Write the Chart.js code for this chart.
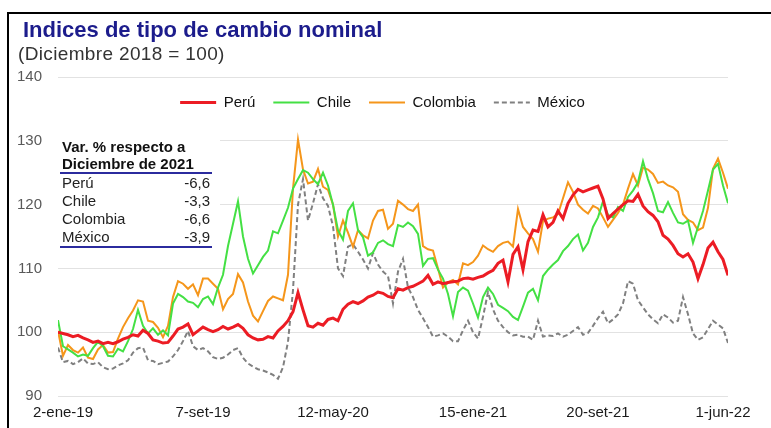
<!DOCTYPE html>
<html>
<head>
<meta charset="utf-8">
<script src="https://cdn.jsdelivr.net/npm/chart.js@4"></script>
<style>
  html, body { margin: 0; padding: 0; background: #fff; }
  #wrap { position: relative; width: 771px; height: 428px; overflow: hidden; font-family: "Liberation Sans", Arial, sans-serif; }
  #frame { position: absolute; left: 7px; top: 12px; right: -10px; bottom: -10px; border-left: 2px solid #000; border-top: 2px solid #000; }
  #title { position: absolute; left: 23px; top: 17px; font-size: 22px; line-height: 26px; font-weight: bold; color: #1c1c8c; white-space: nowrap; }
  #sub { position: absolute; left: 18px; top: 43px; font-size: 19px; line-height: 22px; letter-spacing: 0.35px; color: #333; white-space: nowrap; }
  canvas { position: absolute; left: 0; top: 0; }
  #box { position: absolute; left: 52px; top: 132px; width: 168px; height: 120px; background: #fff; }
  #inner { position: absolute; left: 8px; top: 6px; width: 152px; font-size: 15px; color: #222; }
  .hd { font-weight: bold; line-height: 17px; padding-left: 2px; color: #111; white-space: nowrap; }
  .hd2 { border-bottom: 2px solid #2b2b9e; }
  .row { display: flex; justify-content: space-between; line-height: 18px; padding: 0 2px; }
  #rows { border-bottom: 2px solid #2b2b9e; }
</style>
</head>
<body>
<div id="wrap">
  <canvas id="chart" width="771" height="428"></canvas>
  <div id="frame"></div>
  <div id="title">Indices de tipo de cambio nominal</div>
  <div id="sub">(Diciembre 2018 = 100)</div>
  <div id="box">
    <div id="inner">
      <div class="hd">Var. % respecto a</div>
      <div class="hd hd2">Diciembre de 2021</div>
      <div id="rows"></div>
    </div>
  </div>
</div>
<script>
const peru = [
  100.0, 99.8, 99.6, 99.3, 99.5, 99.1, 98.8, 98.4, 98.6, 98.2,
  98.4, 98.2, 98.5, 98.9, 99.2, 99.6, 99.4, 100.3, 99.8, 98.8,
  98.6, 98.3, 98.4, 99.4, 100.5, 100.8, 101.3, 99.6, 100.2, 100.8,
  100.4, 100.1, 100.4, 100.9, 100.5, 100.8, 101.2, 100.6, 99.6, 99.1,
  98.8, 98.9, 99.3, 99.1, 100.2, 100.9, 101.8, 103.2, 106.2, 103.5,
  101.0, 100.8, 101.4, 101.1, 102.0, 102.2, 101.8, 103.6, 104.4, 104.8,
  104.5, 104.9, 105.5, 105.8, 106.3, 106.1, 105.6, 105.4, 106.8, 106.6,
  107.0, 107.2, 107.6, 108.0, 108.9, 107.5, 107.9, 107.6, 107.8, 107.9,
  108.0, 108.4, 108.5, 108.3, 108.6, 108.8, 109.3, 109.7, 110.8, 111.3,
  107.9, 112.2, 113.4, 109.8, 114.2, 116.0, 115.8, 118.4, 116.5, 117.2,
  119.0, 117.8, 120.2, 121.5, 122.4, 122.0, 122.3, 122.6, 122.9, 120.9,
  117.8, 118.6, 119.3, 120.0, 120.6, 120.5, 121.6, 119.8, 118.9, 118.3,
  117.3, 115.2, 114.6, 113.6, 112.3, 111.8, 112.3, 111.0, 108.4, 110.6,
  113.2, 114.1, 112.6, 111.4, 108.9
];
const chile = [
  101.9, 97.8, 97.3, 96.8, 96.2, 96.5, 96.3, 97.5, 98.5, 97.8,
  96.3, 96.2, 97.4, 97.0, 98.6, 100.5, 103.5, 101.0, 99.8, 100.6,
  99.6, 100.3, 99.5, 104.5, 106.0, 105.5, 104.8, 104.6, 103.9, 105.2,
  105.6, 104.4, 107.0, 109.0, 113.5, 117.0, 120.5, 115.0, 111.5, 109.2,
  110.5, 111.8, 112.8, 115.8, 115.5, 117.5, 119.5, 122.5, 124.0, 125.4,
  125.0, 124.0, 123.2, 125.0, 123.0, 120.0, 116.0, 114.5, 119.0, 120.2,
  116.0, 114.9, 112.0, 112.5, 114.0, 114.4, 113.8, 113.5, 116.8, 116.5,
  117.2, 116.6, 115.4, 110.4, 111.5, 111.6, 109.8, 108.4, 106.0, 102.5,
  106.3, 107.0, 106.5, 104.5, 102.3, 105.5, 107.0, 106.0, 104.3, 103.8,
  103.3, 102.4, 101.9, 104.0, 106.2, 106.8, 105.0, 108.8, 109.8, 110.6,
  111.3, 112.7, 113.5, 114.6, 115.3, 112.8, 114.0, 116.5, 118.0, 120.5,
  118.4, 118.0, 119.6, 119.0, 121.2, 122.2, 123.5, 126.8, 124.0, 121.8,
  119.0, 118.8, 120.4, 118.7, 117.2, 117.0, 117.5, 114.0, 116.5, 119.0,
  122.2, 125.5, 126.4, 123.0, 120.2
];
const colombia = [
  100.2, 96.3, 98.0, 97.2, 96.8, 97.6, 96.0, 95.8, 97.3, 98.0,
  96.8, 96.9, 99.0, 100.8, 102.2, 103.4, 105.0, 104.8, 101.8, 101.6,
  100.7, 99.2, 101.0, 105.5, 108.0, 107.6, 106.8, 107.5, 105.8, 108.4,
  108.4, 107.6, 106.8, 103.6, 105.2, 106.0, 109.1, 107.8, 104.8, 102.6,
  101.7, 103.3, 104.9, 105.6, 105.3, 105.0, 109.0, 122.5, 130.2, 125.5,
  123.3, 123.6, 125.6, 122.8, 122.3, 120.0, 115.0, 117.5, 115.6, 113.4,
  116.0, 115.2, 114.7, 117.5, 119.0, 119.2, 116.2, 117.0, 120.6, 120.0,
  119.3, 119.0, 120.0, 113.5, 113.0, 112.8, 110.0, 107.0, 107.8, 108.2,
  107.5, 110.8, 110.5, 111.0, 112.0, 113.6, 113.0, 112.6, 113.5, 114.0,
  114.2, 113.4, 119.3, 116.5, 115.5, 114.6, 112.6, 117.4, 117.8, 118.0,
  118.5, 121.0, 123.5, 122.0, 120.0, 119.2, 118.6, 119.8, 119.4, 118.0,
  116.5, 117.6, 118.7, 120.0, 122.5, 124.8, 123.0, 125.8, 125.5, 124.8,
  123.4, 123.6, 123.0, 122.7, 122.0, 118.5, 117.6, 117.2, 116.0, 116.4,
  119.5, 125.6, 127.2, 125.0, 122.5
];
const mexico = [
  97.6, 95.3, 95.5, 95.0, 95.3, 95.9, 95.1, 95.0, 95.3, 94.5,
  94.2, 94.3, 94.8, 95.1, 95.6, 96.8, 97.5, 97.6, 95.6, 95.5,
  95.0, 95.2, 95.4, 96.2, 97.2, 98.6, 100.2, 97.8, 97.2, 97.5,
  97.0, 96.1, 95.8, 96.0, 96.5, 97.2, 97.5, 96.0, 95.1, 94.6,
  94.2, 94.0, 93.7, 93.3, 92.7, 94.5, 98.5, 106.6, 120.0, 124.0,
  117.5, 120.2, 123.2, 121.0, 119.8, 116.6, 110.0, 108.8, 113.4, 113.8,
  112.6, 111.4, 110.0, 112.4, 110.6, 109.5, 108.8, 104.5, 109.5, 111.5,
  107.0, 105.5, 103.5, 102.2, 100.8, 99.3, 99.5, 99.8, 99.3, 98.6,
  98.6, 100.3, 101.8, 100.0, 99.0, 102.4, 106.3, 103.6, 101.8, 100.8,
  100.0, 99.5, 99.6, 99.3, 99.3, 98.8, 101.8, 99.3, 99.5, 99.4,
  99.8, 99.3, 99.6, 100.2, 100.8, 99.6, 99.9, 101.0, 102.2, 103.2,
  101.4, 102.0, 102.8, 104.5, 108.0, 107.6, 105.0, 103.9, 102.8, 102.0,
  101.4, 102.8, 102.3, 101.5, 101.8, 105.5, 102.8, 99.8, 98.8, 99.2,
  100.5, 101.8, 101.2, 100.6, 98.3
];

// sample index where each date label falls
const tickIdx = [1, 29, 55, 83, 108, 133];
const tickText = ['2-ene-19', '7-set-19', '12-may-20', '15-ene-21', '20-set-21', '1-jun-22'];

// inset table
const tableNames = ['Perú', 'Chile', 'Colombia', 'México'];
const tableVars = [-6.6, -3.3, -6.6, -3.9];

const rowsEl = document.getElementById('rows');
tableNames.forEach((name, i) => {
    const row = document.createElement('div');
    row.className = 'row';
    const a = document.createElement('span');
    a.textContent = name;
    const b = document.createElement('span');
    b.textContent = tableVars[i].toFixed(1).replace('.', ',');
    row.appendChild(a);
    row.appendChild(b);
    rowsEl.appendChild(row);
});

function toPoints(arr) {
    return arr.map((v, i) => ({ x: i, y: v }));
}

// move the legend down into the plot, just under the top gridline
const legendInPlot = {
    id: 'legendInPlot',
    afterLayout(chart) {
        const lg = chart.legend;
        const h = lg.bottom - lg.top;
        lg.top = chart.chartArea.top;
        lg.bottom = lg.top + h;
        lg.left = chart.chartArea.left - 21;
        lg.right = chart.chartArea.right;
    }
};

Chart.defaults.font.family = '"Liberation Sans", Arial, sans-serif';

const ctx = document.getElementById('chart').getContext('2d');
new Chart(ctx, {
    type: 'line',
    data: {
        datasets: [
            { label: 'Perú', data: toPoints(peru), borderColor: '#ec1c24', backgroundColor: '#ec1c24', borderWidth: 3 },
            { label: 'Chile', data: toPoints(chile), borderColor: '#44e044', backgroundColor: '#44e044', borderWidth: 2 },
            { label: 'Colombia', data: toPoints(colombia), borderColor: '#f5961b', backgroundColor: '#f5961b', borderWidth: 2 },
            { label: 'México', data: toPoints(mexico), borderColor: '#808080', backgroundColor: '#808080', borderWidth: 2, borderDash: [5, 3] }
        ]
    },
    plugins: [legendInPlot],
    options: {
        responsive: false,
        animation: false,
        layout: {
            padding: { left: 8, right: 43, top: 34, bottom: 0 }
        },
        elements: {
            point: { radius: 0 },
            line: { tension: 0 }
        },
        plugins: {
            legend: {
                position: 'top',
                align: 'center',
                labels: {
                    usePointStyle: true,
                    pointStyle: 'line',
                    pointStyleWidth: 36,
                    padding: 18,
                    color: '#111',
                    font: { size: 15 },
                    // keep the dashed look of México in the legend sample
                    generateLabels: chart => {
                        const items = Chart.defaults.plugins.legend.labels.generateLabels(chart);
                        items.forEach(item => {
                            const ds = chart.data.datasets[item.datasetIndex];
                            item.lineDash = ds.borderDash || [];
                            item.lineWidth = ds.borderWidth;
                            item.strokeStyle = ds.borderColor;
                        });
                        return items;
                    }
                }
            },
            tooltip: { enabled: false }
        },
        scales: {
            x: {
                type: 'linear',
                min: 0,
                max: peru.length - 1,
                grid: { display: false, drawTicks: false },
                border: { display: false },
                afterBuildTicks: scale => {
                    scale.ticks = tickIdx.map(v => ({ value: v }));
                },
                afterFit: scale => { scale.height = 32; },
                ticks: {
                    autoSkip: false,
                    maxRotation: 0,
                    padding: 8,
                    color: '#1a1a1a',
                    font: { size: 15 },
                    callback: (value, index) => tickText[index]
                }
            },
            y: {
                min: 90,
                max: 140,
                afterFit: scale => { scale.width = 50; },
                grid: { color: '#e2e2e2', lineWidth: 1, drawTicks: false },
                border: { display: false },
                ticks: {
                    stepSize: 10,
                    padding: 16,
                    color: '#595959',
                    font: { size: 15 }
                }
            }
        }
    }
});
</script>
</body>
</html>
